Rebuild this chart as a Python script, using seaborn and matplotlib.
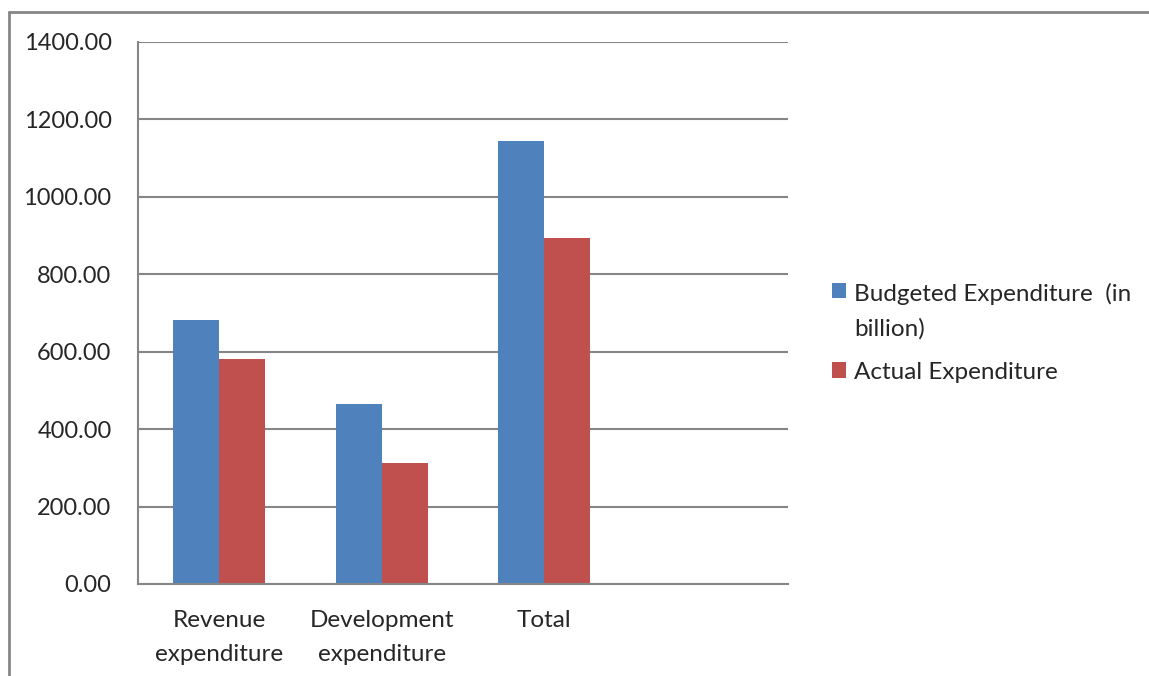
import numpy as np
import pandas as pd
import matplotlib.pyplot as plt
import seaborn as sns
from matplotlib.lines import Line2D

categories = ["Revenue\nexpenditure", "Development\nexpenditure", "Total"]
budgeted = [681, 464, 1145]
actual = [582, 313, 895]
series = ["Budgeted Expenditure  (in\nbillion)", "Actual Expenditure"]
yticks = [0, 200, 400, 600, 800, 1000, 1200, 1400]

df = pd.DataFrame({
    "category": categories * 2,
    "value": budgeted + actual,
    "series": [series[0]] * 3 + [series[1]] * 3,
})

sns.set_style("white")
plt.rcParams["font.family"] = ["Lato", "DejaVu Sans"]
grid_col = "#868686"
fs = 17

W, H = 1149, 676
fig = plt.figure(figsize=(W / 100, H / 100), dpi=100)
ax = fig.add_axes([138 / W, (H - 584) / H, (788 - 138) / W, (584 - 42) / H])

sns.barplot(data=df, x="category", y="value", hue="series", order=categories,
            palette=["#4F81BD", "#C0504D"], width=0.566, saturation=1,
            edgecolor="none", ax=ax)

ax.set_xlim(-0.5, 3.5)
ax.set_ylim(0, 1400)
ax.set_yticks(yticks)
ax.set_yticklabels([f"{v:.2f}" for v in yticks], fontsize=fs)
ax.yaxis.grid(True, color=grid_col, linewidth=1.5)
ax.set_axisbelow(True)

ax.set_xticks(np.arange(-0.5, 3.6, 1.0))
ax.set_xticklabels([])
ax.set_xticks([0, 1, 2], minor=True)
ax.set_xticklabels(categories, minor=True, fontsize=fs + 0.5, linespacing=1.72)
ax.tick_params(axis="x", which="minor", length=0, pad=19)
ax.tick_params(axis="x", which="major", length=7, width=1.5, color=grid_col, direction="out")
ax.tick_params(axis="y", length=8, width=1.5, color=grid_col, pad=11)
ax.set_xlabel("")
ax.set_ylabel("")

for s in ["top", "right"]:
    ax.spines[s].set_visible(False)
for s in ["left", "bottom"]:
    ax.spines[s].set_color(grid_col)
    ax.spines[s].set_linewidth(1.5)

leg = ax.legend(loc="upper left", bbox_to_anchor=(810 / W, 1 - 261 / H),
                bbox_transform=fig.transFigure, frameon=False, fontsize=fs + 0.5,
                handlelength=0.6, handleheight=0.6, handletextpad=0.3,
                labelspacing=0.95, title=None)
for t in leg.get_texts():
    t.set_linespacing(1.72)
# put the colour box level with the first line of a wrapped label
for col in leg._legend_handle_box.get_children():
    for row in col.get_children():
        row.align = "top"

# outer chart border (top and left edges visible)
fig.add_artist(Line2D([9 / W, 1], [1 - 12 / H, 1 - 12 / H], color=grid_col, linewidth=2,
                      transform=fig.transFigure))
fig.add_artist(Line2D([9 / W, 9 / W], [0, 1 - 12 / H], color=grid_col, linewidth=2,
                      transform=fig.transFigure))

fig.savefig("out.png", dpi=100)
